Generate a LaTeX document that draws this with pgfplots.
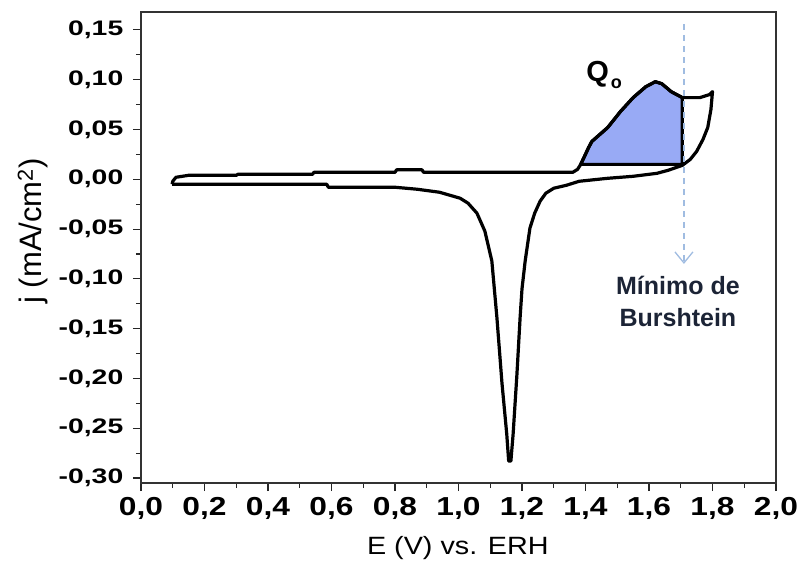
\documentclass[border=0pt]{standalone}
\usepackage{pgfplots}
\pgfplotsset{compat=1.18}
\usepackage{fontspec}
\setmainfont{Liberation Sans}
\usetikzlibrary{arrows.meta}
\definecolor{qblue}{RGB}{152,170,245}
\definecolor{arrowblue}{RGB}{160,188,225}
\definecolor{txtdark}{RGB}{28,36,54}
\begin{document}
\begin{tikzpicture}
\begin{axis}[
  scale only axis,
  width=635pt, height=471pt,
  xmin=0, xmax=2, ymin=-0.305, ymax=0.168,
  xtick={0,0.2,...,2.01},
  ytick={-0.30,-0.25,...,0.16},
  minor x tick num=1, minor y tick num=1,
  tick align=outside,
  xtick pos=bottom, ytick pos=left,
  major tick length=8pt, minor tick length=5pt,
  every tick/.style={black!85, line width=1.1pt},
  axis line style={black!80, line width=1.2pt},
  /pgf/number format/assume math mode=true,
  /pgf/number format/.cd, use comma, fixed, fixed zerofill, precision=2,
  /pgfplots/.cd,
  yticklabel style={font=\fontsize{21}{21}\selectfont\bfseries, xscale=1.35, inner sep=7pt},
  xticklabel style={font=\fontsize{26}{26}\selectfont\bfseries, xscale=1.22, /pgf/number format/precision=1, inner sep=6pt},
  xlabel={E (V) vs. ERH},
  ylabel={j (mA/cm\textsuperscript{2})},
  xlabel style={font=\fontsize{25}{25}\selectfont, xscale=1.15, at={(axis description cs:0.499,-0.138)}, anchor=center},
  ylabel style={font=\fontsize{31}{31}\selectfont, at={(axis description cs:-0.170,0.535)}, anchor=center},
  clip=false,
]
% Q_o shaded region
\addplot[fill=qblue, draw=black, line width=3.2pt, line join=round] coordinates {
(1.385,0.015) (1.41,0.032) (1.42,0.038) (1.47,0.052) (1.51,0.068) (1.55,0.082)
(1.59,0.093) (1.62,0.098) (1.64,0.096) (1.67,0.088) (1.705,0.082) (1.705,0.015)
} -- cycle;
% cyclic voltammogram
\addplot[black, line width=3.2pt, line join=round] coordinates {
(0.098,-0.005) (0.10,-0.002) (0.11,0.002) (0.15,0.004) (0.30,0.004) (0.305,0.005)
(0.54,0.005) (0.545,0.007) (0.80,0.007) (0.805,0.0095) (0.885,0.0095) (0.89,0.007)
(1.36,0.007) (1.375,0.010) (1.385,0.015) (1.41,0.032) (1.42,0.038) (1.47,0.052)
(1.51,0.068) (1.55,0.082) (1.59,0.093) (1.62,0.098) (1.64,0.096) (1.67,0.088)
(1.705,0.082) (1.76,0.082) (1.79,0.085) (1.80,0.088)
(1.795,0.070) (1.785,0.052) (1.77,0.040) (1.75,0.028) (1.73,0.020) (1.705,0.014)
(1.66,0.009) (1.625,0.006) (1.55,0.003) (1.47,0.001) (1.38,-0.002) (1.34,-0.006)
(1.30,-0.009) (1.275,-0.014) (1.257,-0.022) (1.24,-0.034) (1.225,-0.049)
(1.21,-0.082) (1.20,-0.11) (1.194,-0.139) (1.184,-0.196) (1.172,-0.256)
(1.165,-0.283) (1.158,-0.283) (1.152,-0.256) (1.137,-0.205) (1.121,-0.139)
(1.105,-0.082) (1.083,-0.052) (1.058,-0.034) (1.03,-0.024) (1.005,-0.019)
(0.94,-0.013) (0.87,-0.010) (0.80,-0.008) (0.59,-0.008) (0.585,-0.005) (0.098,-0.005)
};
% Burshtein minimum arrow
\draw[arrowblue, line width=1.5pt, dash pattern=on 6pt off 5pt,
  -{Straight Barb[length=11pt,width=18pt,line width=1.3pt]}]
  (axis cs:1.71,0.156) -- (axis cs:1.71,-0.085);
\node[font=\fontsize{25}{32}\selectfont\bfseries, text=txtdark, align=center]
  at (axis cs:1.691,-0.123) {Mínimo de\\Burshtein};
\node[anchor=base west, inner sep=0pt, font=\fontsize{29}{29}\selectfont\bfseries]
  at (axis cs:1.402,0.0987) {Q\hspace{2pt}\raisebox{-7pt}{\fontsize{18}{18}\selectfont o}};
\end{axis}
\pgfresetboundingbox
\path (current axis.south west) +(-141pt,-82pt) rectangle +(656pt,483pt);
\end{tikzpicture}
\end{document}
